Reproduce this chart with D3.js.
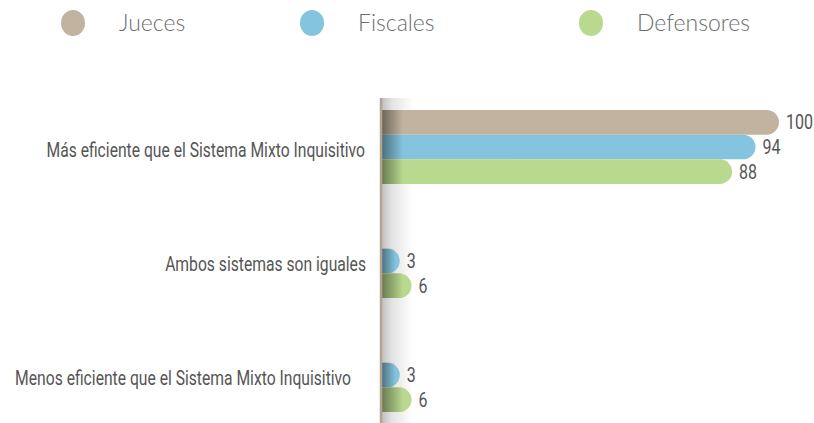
<!DOCTYPE html>
<html><head><meta charset="utf-8">
<script src="https://cdn.jsdelivr.net/npm/d3@7"></script>
<style>
html,body{margin:0;padding:0;background:#fff;}
svg{display:block;}
</style></head>
<body>
<svg id="chart" width="814" height="423"></svg>
<script>
const categories = ["Más eficiente que el Sistema Mixto Inquisitivo", "Ambos sistemas son iguales", "Menos eficiente que el Sistema Mixto Inquisitivo"];
const seriesNames = ["Jueces", "Fiscales", "Defensores"];
const jueces = [100, 0, 0];
const fiscales = [94, 3, 3];
const defensores = [88, 6, 6];
const colors = ["#c1b39f", "#84c4de", "#b8d98e"];

const seriesValues = [jueces, fiscales, defensores];
const svg = d3.select("#chart");
const W = 814, H = 423;
const axisX = 381;
const condensed = 0.8;
const x = d3.scaleLinear().domain([0, 100]).range([axisX, 772]);
const y0 = d3.scaleBand().domain(categories).range([110, 412]).paddingInner(0.351).paddingOuter(0);
const y1 = d3.scaleBand().domain(seriesNames).range([0, y0.bandwidth()]);

const defs = svg.append("defs");
const g1 = defs.append("linearGradient").attr("id", "bgShade").attr("x1", 0).attr("x2", 1).attr("y1", 0).attr("y2", 0);
g1.append("stop").attr("offset", 0).attr("stop-color", "#bdbdbd");
g1.append("stop").attr("offset", 0.35).attr("stop-color", "#e4e4e4");
g1.append("stop").attr("offset", 1).attr("stop-color", "#ffffff");
const g2 = defs.append("linearGradient").attr("id", "barShade").attr("x1", 0).attr("x2", 1).attr("y1", 0).attr("y2", 0);
g2.append("stop").attr("offset", 0).attr("stop-color", "#000").attr("stop-opacity", 0.45);
g2.append("stop").attr("offset", 1).attr("stop-color", "#000").attr("stop-opacity", 0);

function condText(parent, tx, ty, str, size, anchor) {
  const g = parent.append("g").attr("transform", `translate(${tx},${ty}) scale(${condensed},1)`);
  return g.append("text").attr("x", 0).attr("y", 0).attr("dy", "0.35em")
    .attr("text-anchor", anchor).attr("font-family", "Roboto").attr("font-size", size)
    .attr("fill", "#555").text(str);
}

// Legend
const legendX = [73, 312, 591];
const lg = svg.append("g");
seriesNames.forEach((s, i) => {
  lg.append("ellipse").attr("cx", legendX[i]).attr("cy", 23).attr("rx", 12).attr("ry", 13).attr("fill", colors[i]);
  lg.append("text").attr("x", legendX[i] + 46).attr("y", 23).attr("dy", "0.35em")
    .attr("font-family", "Lato").attr("font-weight", 300).attr("font-size", 23)
    .attr("fill", "#6e6e6e").text(s);
});

// Background shadow next to axis
svg.append("rect").attr("x", axisX).attr("y", 98).attr("width", 32).attr("height", H - 98).attr("fill", "url(#bgShade)");

const r = 7;
function barPath(x0, x1, yt, h) {
  const rr = Math.min(h / 2, x1 - x0);
  return `M${x0},${yt}H${x1 - rr}A${rr},${h/2} 0 0 1 ${x1 - rr},${yt + h}H${x0}Z`;
}

categories.forEach((c, ci) => {
  seriesNames.forEach((s, si) => {
    const v = seriesValues[si][ci];
    if (!v) return;
    const yt = y0(c) + y1(s);
    const h = y1.bandwidth();
    const xe = x(v) + r;
    svg.append("path").attr("d", barPath(axisX, xe, yt, h)).attr("fill", colors[si]);
    svg.append("rect").attr("x", axisX).attr("y", yt).attr("width", Math.min(22, xe - axisX - 4)).attr("height", h).attr("fill", "url(#barShade)");
    condText(svg, xe + 7, yt + h / 2, v, 20, "start");
  });
});

// Axis line
svg.append("line").attr("x1", axisX).attr("x2", axisX).attr("y1", 98).attr("y2", H)
  .attr("stroke", "#b3a48e").attr("stroke-width", 2.5);

// Category labels
const labelRight = [365, 366, 351];
categories.forEach((c, ci) => {
  condText(svg, labelRight[ci], y0(c) + y0.bandwidth() / 2 + 3, c, 19.6, "end");
});
</script>
</body></html>
